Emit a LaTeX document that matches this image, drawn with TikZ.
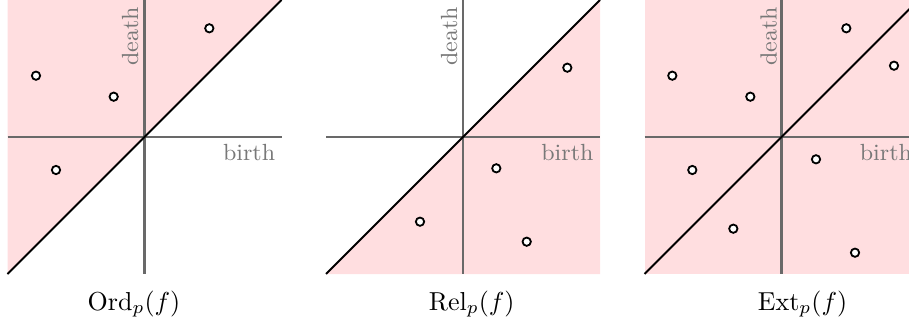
\documentclass[tikz,border=0pt]{standalone}
\definecolor{pinkfill}{RGB}{255,222,224}
\definecolor{axisgray}{RGB}{105,105,105}
\definecolor{labelgray}{RGB}{120,120,120}
\begin{document}
\begin{tikzpicture}[x=0.385pt,y=-0.385pt,
  axis/.style={draw=axisgray,line width=0.8pt},
  diag/.style={draw=black,line width=0.8pt},
  pt/.style={circle,draw=black,fill=white,line width=0.7pt,minimum size=3.2pt,inner sep=0pt},
  axlabel/.style={text=labelgray,font=\fontsize{9}{11}\selectfont,inner sep=0pt},
  captext/.style={font=\fontsize{10}{12}\selectfont,anchor=base,inner sep=0pt}]
\useasboundingbox (0,0) rectangle (909,321);
\clip (0,0) rectangle (909,321);

% ---------- Panel 1: Ord ----------
\fill[pinkfill] (7.5,0) -- (281.5,0) -- (7.5,274) -- cycle;
\coordinate (w1) at (7.5,137);   \coordinate (e1) at (281.5,137);
\coordinate (n1) at (144.5,0);   \coordinate (s1) at (144.5,274);
\coordinate (dl1) at (7.5,274);  \coordinate (du1) at (281.5,0);
\draw[axis] (w1) -- (e1);
\draw[axis] (n1) -- (s1);
\draw[diag] (dl1) -- (du1);
\node[axlabel,anchor=base east] (b1) at (275.7,160.5) {birth};
\node[axlabel,rotate=90,anchor=base east] (d1) at (138,6.5) {death};
\node[pt] (p11) at (36,75.7) {};
\node[pt] (p12) at (113.7,96.7) {};
\node[pt] (p13) at (209.3,28.3) {};
\node[pt] (p14) at (56,170) {};
\node[captext] (c1) at (134,310) {$\mathrm{Ord}_p(f)$};

% ---------- Panel 2: Rel ----------
\fill[pinkfill] (326,274) -- (600,0) -- (600,274) -- cycle;
\coordinate (w2) at (326,137);   \coordinate (e2) at (600,137);
\coordinate (n2) at (463,0);     \coordinate (s2) at (463,274);
\coordinate (dl2) at (326,274);  \coordinate (du2) at (600,0);
\draw[axis] (w2) -- (e2);
\draw[axis] (n2) -- (s2);
\draw[diag] (dl2) -- (du2);
\node[axlabel,anchor=base east] (b2) at (594,160.5) {birth};
\node[axlabel,rotate=90,anchor=base east] (d2) at (457,6.5) {death};
\node[pt] (p21) at (567.3,67.7) {};
\node[pt] (p22) at (496.3,168.3) {};
\node[pt] (p23) at (420,221.7) {};
\node[pt] (p24) at (526.7,241.7) {};
\node[captext] (c2) at (471.7,310) {$\mathrm{Rel}_p(f)$};

% ---------- Panel 3: Ext ----------
\fill[pinkfill] (644.5,0) rectangle (918.5,274);
\coordinate (w3) at (644.5,137); \coordinate (e3) at (918.5,137);
\coordinate (n3) at (781.5,0);   \coordinate (s3) at (781.5,274);
\coordinate (dl3) at (644.5,274);\coordinate (du3) at (918.5,0);
\draw[axis] (w3) -- (e3);
\draw[axis] (n3) -- (s3);
\draw[diag] (dl3) -- (du3);
\node[axlabel,anchor=base east] (b3) at (912.5,160.5) {birth};
\node[axlabel,rotate=90,anchor=base east] (d3) at (776.5,6.5) {death};
\node[pt] (p31) at (672.3,75.7) {};
\node[pt] (p32) at (750.3,96.7) {};
\node[pt] (p33) at (846.3,28.3) {};
\node[pt] (p34) at (894,65.7) {};
\node[pt] (p35) at (692.3,170) {};
\node[pt] (p36) at (816,159.3) {};
\node[pt] (p37) at (733.3,228.7) {};
\node[pt] (p38) at (855,252.7) {};
\node[captext] (c3) at (802.5,310) {$\mathrm{Ext}_p(f)$};
\end{tikzpicture}
\end{document}
